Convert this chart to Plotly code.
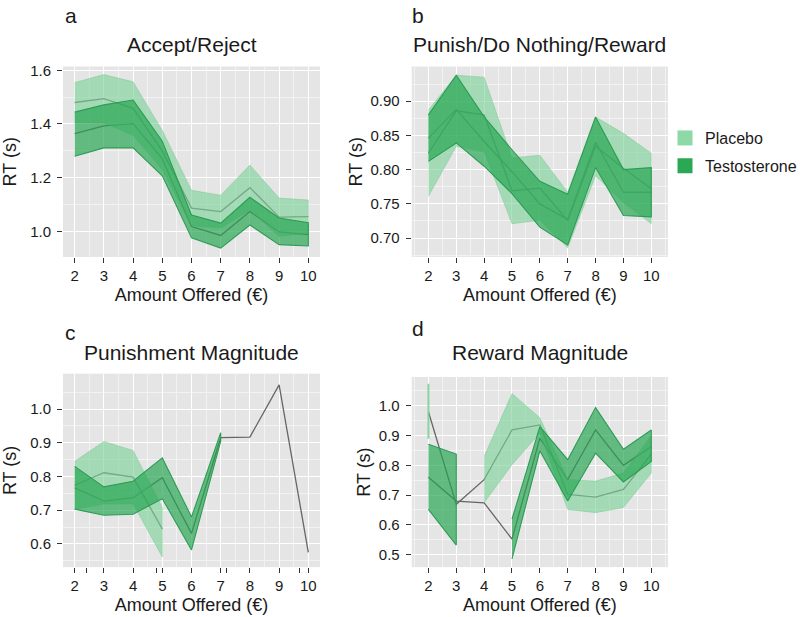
import plotly.graph_objects as go

amounts = [2, 3, 4, 5, 6, 7, 8, 9, 10]
N = None

# Panel a: Accept/Reject
a_pla_mean = [1.480, 1.494, 1.458, 1.300, 1.087, 1.074, 1.163, 1.053, 1.055]
a_pla_lo = [1.406, 1.404, 1.358, 1.230, 1.021, 1.013, 1.079, 0.982, 0.993]
a_pla_hi = [1.554, 1.584, 1.557, 1.376, 1.153, 1.135, 1.247, 1.124, 1.117]
a_tes_mean = [1.364, 1.393, 1.401, 1.270, 1.018, 0.985, 1.074, 0.998, 0.988]
a_tes_lo = [1.280, 1.311, 1.311, 1.207, 0.976, 0.938, 1.024, 0.951, 0.946]
a_tes_hi = [1.444, 1.471, 1.489, 1.336, 1.061, 1.031, 1.127, 1.050, 1.032]

# Panel b: Punish/Do Nothing/Reward
b_pla_mean = [0.824, 0.886, 0.880, 0.769, 0.773, 0.726, 0.834, 0.802, 0.772]
b_pla_lo = [0.761, 0.834, 0.826, 0.721, 0.726, 0.686, 0.791, 0.752, 0.721]
b_pla_hi = [0.887, 0.938, 0.935, 0.817, 0.821, 0.767, 0.877, 0.853, 0.824]
b_tes_mean = [0.846, 0.888, 0.841, 0.797, 0.750, 0.727, 0.840, 0.767, 0.767]
b_tes_lo = [0.812, 0.839, 0.805, 0.765, 0.716, 0.690, 0.803, 0.733, 0.731]
b_tes_hi = [0.880, 0.938, 0.877, 0.829, 0.783, 0.764, 0.877, 0.800, 0.803]

# Panel c: Punishment Magnitude
c_pla_mean = [0.774, 0.811, 0.798, 0.644, N, N, N, N, N]
c_pla_lo = [0.703, 0.718, 0.719, 0.561, N, N, N, N, N]
c_pla_hi = [0.845, 0.904, 0.877, 0.708, N, N, N, N, N]
c_tes_mean = [0.766, 0.727, 0.737, 0.796, 0.631, 0.915, 0.917, 1.072, 0.575]
c_tes_lo = [0.703, 0.685, 0.688, 0.734, 0.582, 0.905, N, N, N]
c_tes_hi = [0.830, 0.769, 0.786, 0.855, 0.680, 0.930, N, N, N]
c_extra_ticks = [2.4, 4.8, 7.2, 9.7]

# Panel d: Reward Magnitude
d_pla_mean = [0.980, 0.669, 0.752, 0.919, 0.936, 0.702, 0.693, 0.719, 0.838]
d_pla_lo = [0.889, N, 0.674, 0.802, 0.909, 0.652, 0.641, 0.658, 0.774]
d_pla_hi = [1.074, N, 0.830, 1.041, 0.960, 0.752, 0.747, 0.774, 0.900]
d_tes_mean = [0.760, 0.680, 0.674, 0.552, 0.891, 0.752, 0.919, 0.800, 0.863]
d_tes_lo = [0.652, 0.532, N, 0.486, 0.849, 0.680, 0.841, 0.744, 0.813]
d_tes_hi = [0.871, 0.838, N, 0.619, 0.930, 0.819, 0.994, 0.854, 0.919]

titles = ["Accept/Reject", "Punish/Do Nothing/Reward", "Punishment Magnitude", "Reward Magnitude"]
letters = ["a", "b", "c", "d"]
groups = ["Placebo", "Testosterone"]

FONT = "Liberation Sans, Arial, Helvetica, sans-serif"
TXT = "#1a1a1a"
PLA_FILL = "rgba(122,210,150,0.62)"
PLA_SEG = "rgba(122,210,150,0.9)"
PLA_LINE = "rgba(110,200,140,0.7)"
TES_FILL = "rgba(35,165,80,0.68)"
TES_SEG = "rgba(35,165,80,0.9)"
TES_LINE = "#2c9c55"
MEAN_COL = "#666666"

FW, FH = 802, 617


def px(x):
    return x / FW


def py(y):
    return 1 - y / FH


fig = go.Figure()


def segments(xs, lo, hi):
    segs, cur = [], []
    for xi, l, h in zip(xs, lo, hi):
        if l is None or h is None:
            if cur:
                segs.append(cur)
            cur = []
        else:
            cur.append((xi, l, h))
    if cur:
        segs.append(cur)
    return segs


def add_panel(ax, pla, tes):
    xa, ya = ax
    for mean in (pla[0], tes[0]):
        fig.add_trace(go.Scatter(x=amounts, y=mean, mode="lines", xaxis=xa, yaxis=ya,
                                 line=dict(color=MEAN_COL, width=1.3), showlegend=False,
                                 hoverinfo="skip"))
    for (mean, lo, hi), fill, seg_col, lcol, lw in ((pla, PLA_FILL, PLA_SEG, PLA_LINE, 0.6),
                                                     (tes, TES_FILL, TES_SEG, TES_LINE, 1.1)):
        for seg in segments(amounts, lo, hi):
            xs = [s[0] for s in seg]
            los = [s[1] for s in seg]
            his = [s[2] for s in seg]
            if len(seg) > 1:
                fig.add_trace(go.Scatter(x=xs + xs[::-1], y=his + los[::-1], mode="lines",
                                         fill="toself", fillcolor=fill, xaxis=xa, yaxis=ya,
                                         line=dict(color=lcol, width=lw), showlegend=False,
                                         hoverinfo="skip"))
            else:
                fig.add_trace(go.Scatter(x=[xs[0], xs[0]], y=[los[0], his[0]], mode="lines",
                                         xaxis=xa, yaxis=ya, line=dict(color=seg_col, width=2),
                                         showlegend=False, hoverinfo="skip"))


add_panel(("x", "y"), (a_pla_mean, a_pla_lo, a_pla_hi), (a_tes_mean, a_tes_lo, a_tes_hi))
add_panel(("x2", "y2"), (b_pla_mean, b_pla_lo, b_pla_hi), (b_tes_mean, b_tes_lo, b_tes_hi))
add_panel(("x3", "y3"), (c_pla_mean, c_pla_lo, c_pla_hi), (c_tes_mean, c_tes_lo, c_tes_hi))
add_panel(("x4", "y4"), (d_pla_mean, d_pla_lo, d_pla_hi), (d_tes_mean, d_tes_lo, d_tes_hi))

fig.add_trace(go.Scatter(x=[None], y=[None], xaxis="x5", yaxis="y3", showlegend=False, hoverinfo="skip"))

for name, col in zip(groups, ["#8fd9a8", "#2aa854"]):
    fig.add_trace(go.Scatter(x=[None], y=[None], mode="markers", name=name, legendgroup=name,
                             xaxis="x2", yaxis="y2",
                             marker=dict(symbol="square", size=15, color=col)))

doms = {
    "a": ([px(63), px(320)], [py(254), py(62)]),
    "b": ([px(411.7), px(668)], [py(254), py(62)]),
    "c": ([px(63), px(320)], [py(566.7), py(371.7)]),
    "d": ([px(411.7), px(668)], [py(566.7), py(375)]),
}

common_ax = dict(showline=False, zeroline=False, ticks="outside", ticklen=5, tickwidth=1,
                 tickcolor="#333333", gridcolor="white", gridwidth=1.3,
                 tickfont=dict(size=15, color=TXT, family=FONT))
minor_grid = dict(showgrid=True, gridcolor="#f2f2f2", gridwidth=0.6, ticks="")

xranges = [[1.6, 10.4], [1.4, 10.6], [1.6, 10.4], [1.4, 10.6]]
yranges = [[0.905, 1.614], [0.6725, 0.9506], [0.531, 1.105], [0.458, 1.097]]
yticks = [[1.0, 1.2, 1.4, 1.6], [0.70, 0.75, 0.80, 0.85, 0.90], [0.6, 0.7, 0.8, 0.9, 1.0],
          [0.5, 0.6, 0.7, 0.8, 0.9, 1.0, 1.1]]
ytext = [["1.0", "1.2", "1.4", "1.6"], ["0.70", "0.75", "0.80", "0.85", "0.90"],
         ["0.6", "0.7", "0.8", "0.9", "1.0"], ["0.5", "0.6", "0.7", "0.8", "0.9", "1.0", "1.1"]]
yminor = [(0.9, 0.1), (0.675, 0.05), (0.55, 0.1), (0.45, 0.1)]
ystandoff = [10, 3, 10, 3]

layout = {}
for i, key in enumerate(["a", "b", "c", "d"]):
    sfx = "" if i == 0 else str(i + 1)
    xd, yd = doms[key]
    layout["xaxis" + sfx] = dict(common_ax, domain=xd, range=xranges[i], anchor="y" + sfx,
                                 tickvals=amounts, ticktext=[str(v) for v in amounts],
                                 minor=dict(minor_grid, tick0=1.5, dtick=1),
                                 title=dict(text="Amount Offered (€)", standoff=5,
                                            font=dict(size=18, color=TXT, family=FONT)))
    layout["yaxis" + sfx] = dict(common_ax, domain=yd, range=yranges[i], anchor="x" + sfx,
                                 tickvals=yticks[i], ticktext=ytext[i], ticklabelstandoff=3,
                                 minor=dict(minor_grid, tick0=yminor[i][0], dtick=yminor[i][1]),
                                 title=dict(text="RT (s)", standoff=ystandoff[i],
                                            font=dict(size=18, color=TXT, family=FONT)))

layout["xaxis5"] = dict(overlaying="x3", anchor="y3", range=xranges[2], tickvals=c_extra_ticks,
                        showticklabels=False, ticks="outside", ticklen=5, tickwidth=1,
                        tickcolor="#333333", showgrid=False, zeroline=False, showline=False)

annotations = []
title_y = [40, 40, 350, 350]
letter_pos = [(63, 11), (410, 11), (63, 330), (410, 326)]
for i, key in enumerate(["a", "b", "c", "d"]):
    xd, yd = doms[key]
    annotations.append(dict(text=titles[i], x=(xd[0] + xd[1]) / 2, y=py(title_y[i]),
                            xref="paper", yref="paper", xanchor="center", yanchor="middle",
                            showarrow=False, font=dict(size=21, color=TXT, family=FONT)))
    lx, ly = letter_pos[i]
    annotations.append(dict(text=letters[i], x=px(lx), y=py(ly), xref="paper", yref="paper",
                            xanchor="left", yanchor="middle", showarrow=False,
                            font=dict(size=21, color=TXT, family=FONT)))

fig.update_layout(
    width=FW, height=FH,
    margin=dict(l=0, r=0, t=0, b=0),
    paper_bgcolor="white", plot_bgcolor="#e5e5e5",
    font=dict(family=FONT, color=TXT),
    annotations=annotations,
    legend=dict(x=px(665), y=py(117), xanchor="left", yanchor="top",
                font=dict(size=16, color=TXT, family=FONT), bgcolor="rgba(0,0,0,0)",
                itemwidth=30, tracegroupgap=4),
    **layout,
)

fig.write_html("out.html", config={"displayModeBar": False},
               post_script="document.body.style.margin='0';document.body.style.overflow='hidden';")
